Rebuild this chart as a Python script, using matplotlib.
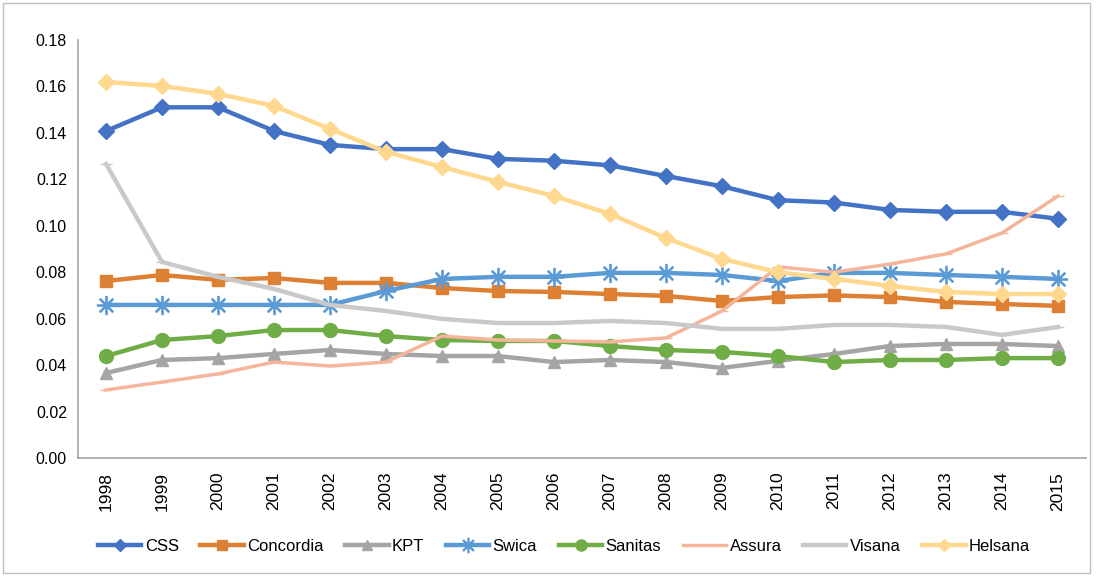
import matplotlib
matplotlib.use("Agg")
import matplotlib.pyplot as plt
from matplotlib.patches import Rectangle

plt.rcParams['font.family'] = ['Liberation Sans', 'DejaVu Sans']

years = list(range(1998, 2016))

css = [0.1408, 0.151, 0.151, 0.1408, 0.1348, 0.133, 0.133, 0.1288, 0.128,
       0.126, 0.1214, 0.117, 0.111, 0.110, 0.1068, 0.106, 0.106, 0.103]
concordia = [0.0762, 0.0788, 0.0767, 0.0775, 0.0754, 0.0754, 0.0732, 0.0719, 0.0715,
             0.0706, 0.0698, 0.0676, 0.0693, 0.070, 0.0693, 0.0672, 0.0663, 0.0655]
kpt = [0.0366, 0.0422, 0.043, 0.0448, 0.0465, 0.0448, 0.0439, 0.0439, 0.0413,
       0.0422, 0.0413, 0.0388, 0.0418, 0.0448, 0.0482, 0.0491, 0.0491, 0.0482]
swica = [0.0659, 0.0659, 0.0659, 0.0659, 0.0659, 0.0719, 0.0771, 0.078, 0.078,
         0.0797, 0.0797, 0.0788, 0.0762, 0.0797, 0.0797, 0.0788, 0.078, 0.0771]
sanitas = [0.0439, 0.0508, 0.0525, 0.0551, 0.0551, 0.0525, 0.0508, 0.0504, 0.0504,
           0.0482, 0.0465, 0.0457, 0.0439, 0.0413, 0.0422, 0.0422, 0.043, 0.043]
assura = [0.0293, 0.0327, 0.0362, 0.0413, 0.0396, 0.0413, 0.0525, 0.0508, 0.0504,
          0.050, 0.0517, 0.0633, 0.0823, 0.080, 0.0835, 0.0879, 0.0969, 0.1128]
visana = [0.1266, 0.0844, 0.078, 0.0728, 0.0659, 0.0633, 0.0599, 0.0581, 0.0581,
          0.059, 0.0581, 0.0556, 0.0556, 0.0573, 0.0573, 0.0564, 0.053, 0.0564]
helsana = [0.1619, 0.1602, 0.1568, 0.1516, 0.1417, 0.1318, 0.1253, 0.1189, 0.1128,
           0.1051, 0.0947, 0.0857, 0.080, 0.0771, 0.0741, 0.0715, 0.0706, 0.0706]

series = [
    ("CSS", css, "#4472C4", "D", 8, 3.2),
    ("Concordia", concordia, "#DD8033", "s", 9, 3.2),
    ("KPT", kpt, "#A5A5A5", "^", 9, 3.2),
    ("Swica", swica, "#5B9BD5", "$\u2733$", 13, 3.2),
    ("Sanitas", sanitas, "#70AD47", "o", 10, 3.2),
    ("Assura", assura, "#F4B59A", "_", 8, 2.5),
    ("Visana", visana, "#C9C9C9", "_", 8, 3.2),
    ("Helsana", helsana, "#FFD88F", "D", 8, 3.2),
]

fig = plt.figure(figsize=(11.02, 5.76), dpi=100)
ax = fig.add_axes([0.0708, 0.2049, 0.9147, 0.7257])

x = list(range(len(years)))
for name, vals, color, marker, ms, lw in series:
    ax.plot(x, vals, color=color, lw=lw, marker=marker, markersize=ms,
            markeredgecolor=color, markerfacecolor=color, label=name)

ax.set_xlim(-0.5, len(years) - 0.5)
ax.set_ylim(0, 0.18)
ax.set_yticks([i * 0.02 for i in range(10)])
ax.set_yticklabels([f"{i * 0.02:.2f}" for i in range(10)], fontsize=11.5)
ax.set_xticks(x)
ax.set_xticklabels([str(y) for y in years], rotation=90, fontsize=12.5)
ax.tick_params(length=0, pad=8)
ax.tick_params(axis='x', pad=10)

for side in ("top", "right"):
    ax.spines[side].set_visible(False)
for side in ("left", "bottom"):
    ax.spines[side].set_color("#A6A6A6")
    ax.spines[side].set_linewidth(1.2)

fig.legend(loc="center", bbox_to_anchor=(0.512, 0.052), ncol=8, frameon=False,
           fontsize=12, handlelength=2.6, handletextpad=0.2, columnspacing=1.3,
           markerscale=0.8)

fig.patches.append(Rectangle((0.003, 0.005), 0.986, 0.99, transform=fig.transFigure,
                             fill=False, edgecolor="#BFBFBF", lw=1))

fig.savefig("out.png", dpi=100)
